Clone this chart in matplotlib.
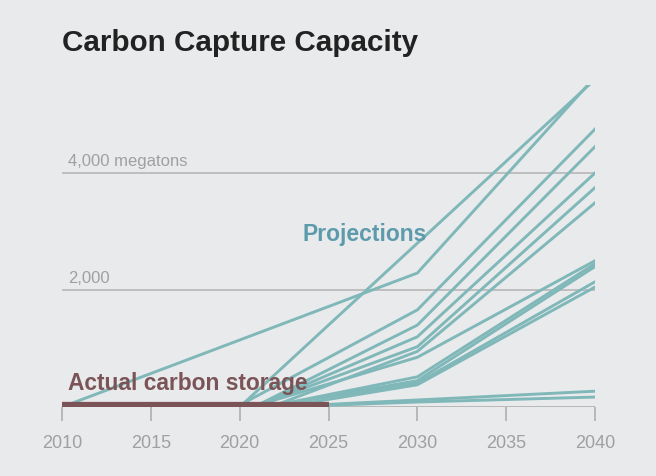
import numpy as np
import matplotlib.pyplot as plt

plt.rcParams['font.family'] = ['Liberation Sans', 'DejaVu Sans']

# 数据：实际封存量与各情景预测 (megatons)
actual_years = [2010, 2025]
actual_values = [40, 40]

# 2010 年起步的那条预测线
early_years = [2010, 2030, 2040]
early_values = [0, 2290, 5640]

# 2020 年起步、直线上升的那条
straight_years = [2020, 2040]
straight_values = [0, 5600]

# 其余预测：起步年份，以及 2030 与 2040 的数值
proj_start = [2020, 2021, 2021, 2021, 2022, 2021, 2022, 2022, 2022, 2023, 2024, 2025]
proj_2030 = [1660, 1400, 1200, 1030, 950, 850, 515, 450, 410, 380, 120, 85]
proj_2040 = [4750, 4450, 4000, 3750, 3490, 2500, 2450, 2400, 2140, 2050, 270, 170]

x_ticks = [2010, 2015, 2020, 2025, 2030, 2035, 2040]
grid_levels = [2000, 4000]
grid_labels = ['2,000', '4,000 megatons']

bg = '#e9eaec'
teal = '#80b8b9'
brown = '#7b5457'
grey = '#a0a0a0'

W, H = 656, 476
fig = plt.figure(figsize=(W / 100, H / 100), dpi=100, facecolor=bg)
ax = fig.add_axes([62 / W, (H - 407) / H, (595 - 62) / W, (407 - 85.25) / H])
ax.set_facecolor(bg)
ax.set_xlim(2010, 2040)
ax.set_ylim(0, 5500)

for s in ax.spines.values():
    s.set_visible(False)

# 网格线
for lv, lab in zip(grid_levels, grid_labels):
    ax.axhline(lv, color='#b3b3b3', lw=1.1, zorder=1)
    ax.text(2010.35, lv + 70, lab, color=grey, fontsize=12, va='bottom', ha='left')

# 预测线
lw = 2.1
ax.plot(early_years, early_values, color=teal, lw=lw, zorder=2)
ax.plot(straight_years, straight_values, color=teal, lw=lw, zorder=2)
for y0, b, c in zip(proj_start, proj_2030, proj_2040):
    ax.plot([y0, 2030, 2040], [30, b, c], color=teal, lw=lw, zorder=2)

# 实际封存
ax.plot(actual_years, actual_values, color=brown, lw=4.5, solid_capstyle='butt', zorder=3)

# 底部坐标轴
ax.axhline(0, color='#b3b3b3', lw=1.3, zorder=1)
ax.set_xticks(x_ticks)
ax.set_xticklabels([str(t) for t in x_ticks])
ax.set_yticks([])
ax.tick_params(axis='x', length=10, width=1.3, color='#b3b3b3', labelcolor=grey,
               labelsize=13, pad=10)

ax.text(2010.35, 200, 'Actual carbon storage', color=brown, fontsize=16.4,
        fontweight='semibold', va='bottom', ha='left', zorder=4)
ax.text(2023.55, 2950, 'Projections', color='#5d9bac', fontsize=16.5,
        fontweight='semibold', va='center', ha='left', zorder=4)

fig.text(62 / W, 1 - 43 / H, 'Carbon Capture Capacity', fontsize=21.3,
         fontweight='bold', color='#222222', va='center', ha='left')

fig.savefig('out.png', dpi=100, facecolor=bg)
